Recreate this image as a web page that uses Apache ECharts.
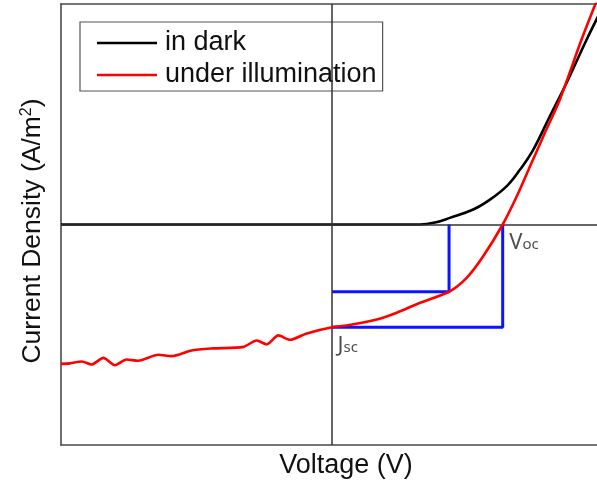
<!DOCTYPE html>
<html>
<head>
<meta charset="utf-8">
<script src="https://cdn.jsdelivr.net/npm/echarts@6/dist/echarts.min.js"></script>
<style>
  html, body { margin: 0; padding: 0; background: #fff; }
  #chart { width: 597px; height: 486px; }
</style>
</head>
<body>
<div id="chart"></div>
<script>
// J–V characteristic of a solar cell, arbitrary units
const seriesNames = ['in dark', 'under illumination'];

// dark current: flat until turn-on, then diode-like rise
const darkV = [-1.0, -0.5, 0.0, 0.2, 0.325, 0.38, 0.435, 0.521, 0.583, 0.645, 0.694, 0.743, 0.804, 0.866, 0.940, 0.989];
const darkJ = [0.0, 0.0, 0.0, 0.0, 0.0, 0.009, 0.030, 0.068, 0.113, 0.174, 0.249, 0.340, 0.491, 0.643, 0.839, 0.961];

// illuminated current: noisy in reverse bias, crosses zero at Voc
const lightV = [-1.0, -0.967, -0.924, -0.887, -0.844, -0.801, -0.758, -0.715, -0.641, -0.592, -0.518, -0.438, -0.327, -0.278, -0.241, -0.198, -0.155, -0.093, 0.0, 0.054, 0.165, 0.239, 0.325, 0.432, 0.497, 0.558, 0.630, 0.682, 0.731, 0.786, 0.841, 0.921, 0.985];
const lightJ = [-0.632, -0.630, -0.621, -0.635, -0.605, -0.638, -0.612, -0.618, -0.591, -0.597, -0.571, -0.562, -0.555, -0.526, -0.544, -0.503, -0.523, -0.494, -0.466, -0.458, -0.431, -0.400, -0.355, -0.305, -0.242, -0.144, 0.0, 0.128, 0.264, 0.417, 0.567, 0.839, 1.04];

// characteristic points
const Jsc = -0.466;           // short-circuit current density
const Voc = 0.630;            // open-circuit voltage
const Vmp = 0.432;            // maximum power point
const Jmp = -0.305;

// visible voltage window
const vMin = -1.0;
const vMax = 0.978;

const zip = (xs, ys) => xs.map((x, i) => [x, ys[i]]);

const chart = echarts.init(document.getElementById('chart'), null, { renderer: 'canvas' });

const frameLine = { show: true, onZero: false, lineStyle: { color: '#4a4a4a', width: 1.6 } };
const hidden = { axisTick: { show: false }, axisLabel: { show: false }, splitLine: { show: false } };
const textFont = 'Liberation Sans, Arial, sans-serif';
const noteFont = 'Noto Sans, sans-serif';

chart.setOption({
  animation: false,
  backgroundColor: '#fff',
  grid: { left: 61, top: 4, bottom: 41, right: 0, show: false },
  legend: {
    data: seriesNames,
    orient: 'vertical',
    left: 80,
    top: 22,
    padding: [5, 6, 0, 17],
    itemGap: 0,
    itemWidth: 60,
    itemHeight: 2.5,
    icon: 'rect',
    borderColor: '#555',
    borderWidth: 1.2,
    backgroundColor: '#fff',
    textStyle: { fontFamily: textFont, fontSize: 27, color: '#111', lineHeight: 32, padding: [0, 0, 0, 3] }
  },
  xAxis: [
    Object.assign({
      type: 'value', min: vMin, max: vMax, position: 'bottom',
      axisLine: frameLine,
      name: 'Voltage (V)', nameLocation: 'middle', nameGap: 7,
      nameTextStyle: { fontFamily: textFont, fontSize: 27, color: '#111', padding: [0, 0, 0, 34] }
    }, hidden),
    Object.assign({ type: 'value', min: vMin, max: vMax, position: 'top', axisLine: frameLine }, hidden)
  ],
  yAxis: [
    Object.assign({
      type: 'value', min: -1, max: 1, position: 'left',
      axisLine: frameLine,
      name: 'Current Density (A/m{sup|2})', nameLocation: 'middle', nameGap: 15,
      nameTextStyle: {
        fontFamily: textFont, fontSize: 26.5, color: '#111', padding: [0, 13, 0, 0],
        rich: { sup: { fontFamily: textFont, fontSize: 16, color: '#111', verticalAlign: 'top', padding: [0, 0, 9, 0] } }
      }
    }, hidden)
  ],
  series: [
    {
      name: 'in dark', type: 'line', data: zip(darkV, darkJ),
      showSymbol: false, symbol: 'none', smooth: 0.4, clip: true, z: 4,
      lineStyle: { color: '#000', width: 2.6 }, itemStyle: { color: '#000' },
      markLine: {
        silent: true, symbol: 'none', animation: false,
        label: { show: false },
        lineStyle: { color: '#333', width: 1.5, type: 'solid' },
        data: [{ xAxis: 0 }, { yAxis: 0 }]
      }
    },
    {
      name: 'under illumination', type: 'line', data: zip(lightV, lightJ),
      showSymbol: false, symbol: 'none', smooth: 0.25, clip: true, z: 5,
      lineStyle: { color: '#ff0000', width: 2.6 }, itemStyle: { color: '#ff0000' }
    },
    {
      name: 'Jsc-Voc box', type: 'line',
      data: [[0, Jsc], [Voc, Jsc], [Voc, 0]],
      showSymbol: false, symbol: 'none', z: 3,
      lineStyle: { color: '#0a14ff', width: 3 }
    },
    {
      name: 'max power box', type: 'line',
      data: [[0, Jmp], [Vmp, Jmp], [Vmp, 0]],
      showSymbol: false, symbol: 'none', z: 3,
      lineStyle: { color: '#0a14ff', width: 3 }
    },
    {
      name: 'point labels', type: 'scatter', z: 6, silent: true,
      symbolSize: 1, itemStyle: { color: 'rgba(0,0,0,0)' },
      label: {
        show: true, align: 'left', verticalAlign: 'top', color: '#222',
        rich: {
          b: { fontFamily: noteFont, fontSize: 22, color: '#222', lineHeight: 24, verticalAlign: 'bottom' },
          s: { fontFamily: noteFont, fontSize: 15, color: '#222', lineHeight: 24, verticalAlign: 'bottom', padding: [0, 0, 2, 0] }
        }
      },
      data: [
        { value: [Voc, 0], label: { position: [7, 6], formatter: '{b|V}{s|oc}' } },
        { value: [0, Jsc], label: { position: [6, 6], formatter: '{b|J}{s|sc}' } }
      ]
    }
  ]
});
</script>
</body>
</html>
